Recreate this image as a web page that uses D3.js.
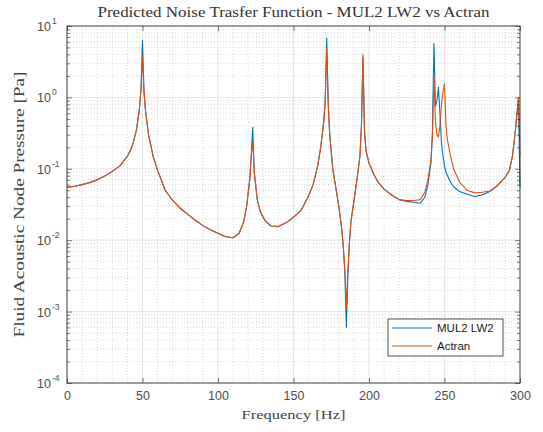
<!DOCTYPE html>
<html><head><meta charset="utf-8">
<script src="https://cdn.jsdelivr.net/npm/d3@7"></script>
<style>body{margin:0;background:#fff}svg{display:block}</style>
</head><body>
<svg id="c" width="543" height="432"></svg>
<script>
const title = "Predicted Noise Trasfer Function - MUL2 LW2 vs Actran";
const xLabel = "Frequency [Hz]";
const yLabel = "Fluid Acoustic Node Pressure [Pa]";
const seriesNames = ["MUL2 LW2", "Actran"];
const xTicks = [0, 50, 100, 150, 200, 250, 300];
const yTickExps = [-4, -3, -2, -1, 0, 1];

const freq = [0,5,10,15,20,25,30,35,40,43,46,48,49,50,51,52,54,57,60,65,70,75,80,85,90,95,100,105,110,114,117,119,121,122,123,124,126,128,131,135,140,145,150,155,160,163,166,168,170,171,172,173,174,176,178,180,182,183,184,185,186,187,188,190,192,194,195,196,197,198,200,203,206,210,215,220,225,230,234,237,239,241,242,243,244,245,246,247,248,249,250,251,252,254,256,260,265,270,275,280,285,290,293,295,297,298,299,300];
const mul2 = [0.055,0.057,0.060,0.064,0.070,0.079,0.092,0.110,0.15,0.20,0.35,0.7,1.3,6.3,1.2,0.65,0.30,0.15,0.095,0.050,0.036,0.028,0.023,0.019,0.016,0.014,0.0125,0.0112,0.0108,0.0125,0.018,0.030,0.07,0.15,0.38,0.09,0.037,0.025,0.019,0.0158,0.0155,0.0175,0.021,0.026,0.042,0.06,0.11,0.2,0.45,0.9,6.8,0.8,0.3,0.1,0.055,0.03,0.014,0.008,0.0035,0.0006,0.003,0.009,0.018,0.035,0.07,0.15,0.4,3.6,0.35,0.18,0.12,0.085,0.065,0.052,0.043,0.037,0.035,0.034,0.033,0.040,0.060,0.12,0.3,5.7,0.75,0.9,1.38,0.6,0.23,0.15,0.11,0.09,0.08,0.065,0.056,0.048,0.044,0.041,0.043,0.048,0.058,0.075,0.095,0.15,0.35,0.6,0.9,0.055];
const actran = [0.055,0.057,0.060,0.064,0.070,0.079,0.092,0.110,0.15,0.20,0.35,0.7,1.3,3.8,1.2,0.65,0.30,0.15,0.095,0.050,0.036,0.028,0.023,0.019,0.016,0.014,0.0125,0.0112,0.0108,0.0125,0.018,0.030,0.07,0.15,0.24,0.09,0.037,0.025,0.019,0.0158,0.0155,0.0175,0.021,0.026,0.042,0.06,0.11,0.2,0.45,0.9,4.8,0.8,0.3,0.1,0.055,0.03,0.014,0.008,0.004,0.0011,0.004,0.009,0.018,0.035,0.07,0.15,0.4,4.0,0.35,0.18,0.12,0.085,0.065,0.052,0.043,0.037,0.036,0.036,0.037,0.047,0.070,0.13,0.3,2.0,0.45,0.3,0.28,0.4,0.8,1.2,1.55,0.4,0.25,0.15,0.10,0.065,0.050,0.046,0.047,0.049,0.058,0.075,0.095,0.15,0.35,0.6,1.0,0.15];

const colors = ["#0072BD", "#D95319"];
const L = 67, R = 520, T = 26, B = 383;
const svg = d3.select("#c");
const x = d3.scaleLinear().domain([0, 300]).range([L, R]);
const y = d3.scaleLog().domain([1e-4, 1e1]).range([B, T]);

// minor grid
const minorX = d3.range(0, 301, 10).filter(v => v % 50 !== 0);
const minorY = [];
for (let e = -4; e < 1; e++) for (let k = 2; k <= 9; k++) minorY.push(k * Math.pow(10, e));
const g = svg.append("g");
g.selectAll(".mx").data(minorX).join("line")
  .attr("x1", d => x(d)).attr("x2", d => x(d)).attr("y1", T).attr("y2", B)
  .attr("stroke", "#cfcfcf").attr("stroke-width", 0.8).attr("stroke-dasharray", "1,2");
g.selectAll(".my").data(minorY).join("line")
  .attr("x1", L).attr("x2", R).attr("y1", d => y(d)).attr("y2", d => y(d))
  .attr("stroke", "#cfcfcf").attr("stroke-width", 0.8).attr("stroke-dasharray", "1,2");
// major grid
g.selectAll(".Mx").data(xTicks.slice(1, -1)).join("line")
  .attr("x1", d => x(d)).attr("x2", d => x(d)).attr("y1", T).attr("y2", B)
  .attr("stroke", "#dedede").attr("stroke-width", 0.8);
g.selectAll(".My").data(yTickExps.slice(1, -1)).join("line")
  .attr("x1", L).attr("x2", R).attr("y1", d => y(Math.pow(10, d))).attr("y2", d => y(Math.pow(10, d)))
  .attr("stroke", "#dedede").attr("stroke-width", 0.8);

// lines
const line = d3.line().x((d, i) => x(freq[i])).y(d => y(d));
[mul2, actran].forEach((s, i) => {
  svg.append("path").datum(s).attr("d", line).attr("fill", "none")
    .attr("stroke", colors[i]).attr("stroke-width", 1.1).attr("stroke-linejoin", "round");
});

// axes with inward ticks on all sides
const ax = g => g.attr("font-family", "Liberation Sans, Arial, sans-serif").attr("font-size", 12.5);
const bottom = svg.append("g").attr("transform", `translate(0,${B})`)
  .call(d3.axisBottom(x).tickValues(xTicks).tickSizeInner(-5).tickSizeOuter(0).tickPadding(8)).call(ax);
svg.append("g").attr("transform", `translate(0,${T})`)
  .call(d3.axisTop(x).tickValues(xTicks).tickSizeInner(-5).tickSizeOuter(0).tickFormat("")).call(ax);
const majY = yTickExps.map(e => Math.pow(10, e));
svg.append("g").attr("transform", `translate(${L},0)`)
  .call(d3.axisLeft(y).tickValues(majY).tickSizeInner(-5).tickSizeOuter(0).tickFormat(""));
svg.append("g").attr("transform", `translate(${R},0)`)
  .call(d3.axisRight(y).tickValues(majY).tickSizeInner(-5).tickSizeOuter(0).tickFormat(""));
svg.append("g").attr("transform", `translate(${L},0)`)
  .call(d3.axisLeft(y).tickValues(minorY).tickSizeInner(-3).tickSizeOuter(0).tickFormat(""));
svg.append("g").attr("transform", `translate(${R},0)`)
  .call(d3.axisRight(y).tickValues(minorY).tickSizeInner(-3).tickSizeOuter(0).tickFormat(""));
svg.selectAll(".domain").remove();
svg.selectAll(".tick line").attr("stroke", "#262626").attr("stroke-width", 0.6);
bottom.selectAll("text").attr("fill", "#4d4d4d");
svg.append("rect").attr("x", L).attr("y", T).attr("width", R - L).attr("height", B - T)
  .attr("fill", "none").attr("stroke", "#262626").attr("stroke-width", 0.9);

// y tick labels with superscripts
const yl = svg.append("g").attr("font-family", "Liberation Sans, Arial, sans-serif").attr("fill", "#4d4d4d");
yTickExps.forEach(e => {
  yl.append("text").attr("x", 51).attr("y", y(Math.pow(10, e)) + 5)
    .attr("text-anchor", "end").attr("font-size", 12.5).text("10");
  yl.append("text").attr("x", 52).attr("y", y(Math.pow(10, e)) - 2)
    .attr("font-size", 8.5).text(e);
});

// title and labels
svg.append("text").attr("x", (L + R) / 2).attr("y", 17).attr("text-anchor", "middle")
  .attr("font-family", "Liberation Serif, DejaVu Serif, serif").attr("font-size", 14).attr("fill", "#333")
  .attr("textLength", 392).attr("lengthAdjust", "spacingAndGlyphs").text(title);
svg.append("text").attr("x", (L + R) / 2).attr("y", 419).attr("text-anchor", "middle")
  .attr("font-family", "Liberation Serif, DejaVu Serif, serif").attr("font-size", 13).attr("fill", "#444")
  .attr("textLength", 104).attr("lengthAdjust", "spacingAndGlyphs").text(xLabel);
svg.append("text").attr("transform", `translate(24,${(T + B) / 2}) rotate(-90)`).attr("text-anchor", "middle")
  .attr("font-family", "Liberation Serif, DejaVu Serif, serif").attr("font-size", 14).attr("fill", "#444")
  .attr("textLength", 266).attr("lengthAdjust", "spacingAndGlyphs").text(yLabel);

// legend
const lg = svg.append("g");
lg.append("rect").attr("x", 388).attr("y", 319).attr("width", 115).attr("height", 37)
  .attr("fill", "#fff").attr("stroke", "#262626").attr("stroke-width", 0.8);
seriesNames.forEach((n, i) => {
  const yy = 328 + i * 18;
  lg.append("line").attr("x1", 392).attr("x2", 432).attr("y1", yy).attr("y2", yy)
    .attr("stroke", colors[i]).attr("stroke-width", 1.1);
  lg.append("text").attr("x", 437).attr("y", yy + 4).attr("font-size", 11.5)
    .attr("font-family", "Liberation Sans, Arial, sans-serif").attr("fill", "#222").text(n);
});
</script>
</body></html>
